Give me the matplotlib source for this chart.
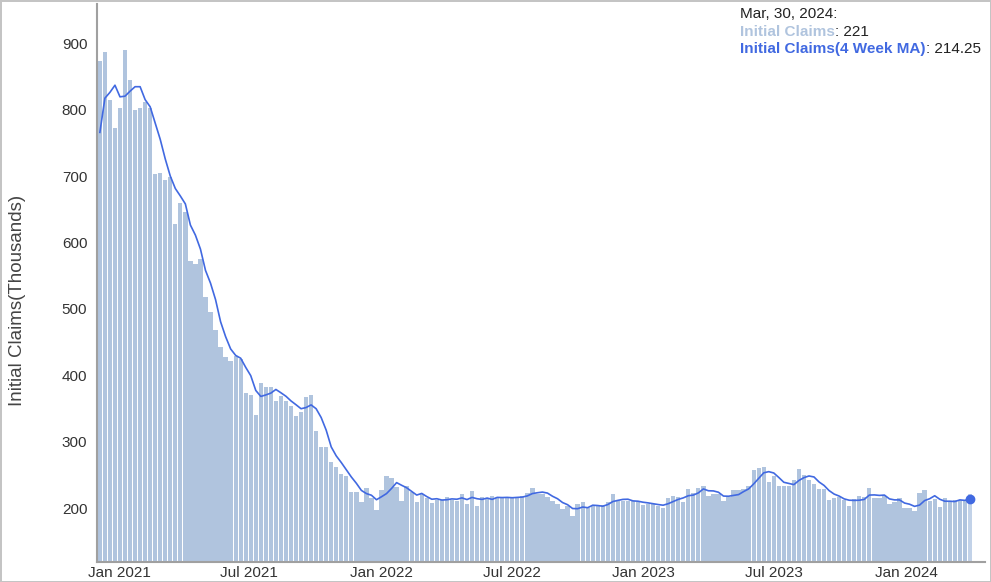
import matplotlib
matplotlib.use('Agg')
import matplotlib.pyplot as plt
import matplotlib.dates as mdates
import pandas as pd

plt.rcParams['font.family'] = ['Liberation Sans', 'DejaVu Sans']

# weekly initial claims (thousands), weeks ending on Saturday
start_week = '2020-12-05'
# three weeks of Nov 2020, only used to seed the 4 week moving average
prior_claims = [680, 780, 730]
claims = [
    873, 886, 815, 773, 803, 890, 845, 800, 803, 812, 802, 703, 704, 694, 699, 628,
    659, 646, 572, 567, 575, 518, 495,
    468, 442, 428, 421, 429, 425, 373, 371, 340, 389, 382, 382, 362, 369, 361, 354,
    339, 345, 368, 370, 316, 292, 292, 269, 262, 252, 249, 225, 224, 209,
    230, 215, 197, 227, 249, 246, 232, 211, 234, 224, 210, 221, 215, 208, 213, 213,
    217, 213, 211, 221, 207, 226, 203, 217, 215, 218, 215, 216, 216, 216,
    217, 218, 223, 230, 222, 222, 217, 211, 207, 199, 204, 188, 206, 209, 200, 203,
    204, 205, 210, 221, 211, 211, 211, 211, 209, 205, 207, 206, 204, 201,
    216, 219, 217, 210, 229, 223, 230, 234, 218, 222, 222, 211, 217, 227, 227, 229,
    233, 257, 261, 262, 240, 249, 234, 233, 233, 242, 259, 250, 243, 236,
    229, 229, 212, 215, 217, 212, 204, 214, 218, 217, 230, 215, 215, 219, 207, 209,
    215, 200, 200, 196, 223, 227, 211, 214, 202, 215, 211, 212, 212, 212, 221,
]

weeks = pd.date_range(start_week, periods=len(claims), freq='7D')
ma = pd.Series(prior_claims + claims).rolling(4).mean().iloc[len(prior_claims):].values

bar_color = '#b0c4de'
line_color = '#4169e1'

fig = plt.figure(figsize=(9.91, 5.82), dpi=100)
fig.patch.set_edgecolor('#c4c4c4')
fig.patch.set_linewidth(2)
ax = fig.add_axes([97 / 991, 1 - 562 / 582, 888 / 991, 558 / 582])

colors = [bar_color] * (len(claims) - 1) + ['#c2d2e8']
ax.bar(weeks, claims, width=6, color=colors, zorder=1)
ax.plot(weeks, ma, color=line_color, lw=1.2, zorder=2)
ax.plot(weeks[-1:], ma[-1:], 'o', color=line_color, ms=6, zorder=3)

ax.set_xlim(pd.Timestamp('2020-12-01'), pd.Timestamp('2024-04-20'))
ax.set_ylim(119, 959)
ax.set_yticks(range(200, 901, 100))
ax.xaxis.set_major_locator(mdates.MonthLocator(bymonth=[1, 7]))
ax.xaxis.set_major_formatter(mdates.DateFormatter('%b %Y'))
ax.tick_params(length=0, labelsize=11, labelcolor='#333333')
ax.tick_params(axis='y', pad=7)
ax.tick_params(axis='x', pad=3)

for s in ['top', 'right']:
    ax.spines[s].set_visible(False)
for s in ['left', 'bottom']:
    ax.spines[s].set_color('#a0a0a0')
    ax.spines[s].set_linewidth(1.5)

fig.text(18 / 991, 1 - 300 / 582, 'Initial Claims(Thousands)', rotation=90,
         ha='center', va='center', fontsize=13.5, color='#444444')

# tooltip for the last week
tx = 740 / 991
fs = 11
rows = [
    [(weeks[-1].strftime('%b, %d, %Y') + ':', '#222222', 'normal')],
    [('Initial Claims', bar_color, 'bold'), (': %d' % claims[-1], '#222222', 'normal')],
    [('Initial Claims(4 Week MA)', line_color, 'bold'), (': %.2f' % ma[-1], '#222222', 'normal')],
]
fig.canvas.draw()
r = fig.canvas.get_renderer()
for i, row in enumerate(rows):
    y = 1 - (18 + i * 17.5) / 582
    x = tx
    for txt, c, w in row:
        t = fig.text(x, y, txt, color=c, fontweight=w, fontsize=fs, va='baseline')
        bb = t.get_window_extent(renderer=r)
        x = bb.x1 / fig.bbox.width

fig.savefig('out.png', dpi=100)
